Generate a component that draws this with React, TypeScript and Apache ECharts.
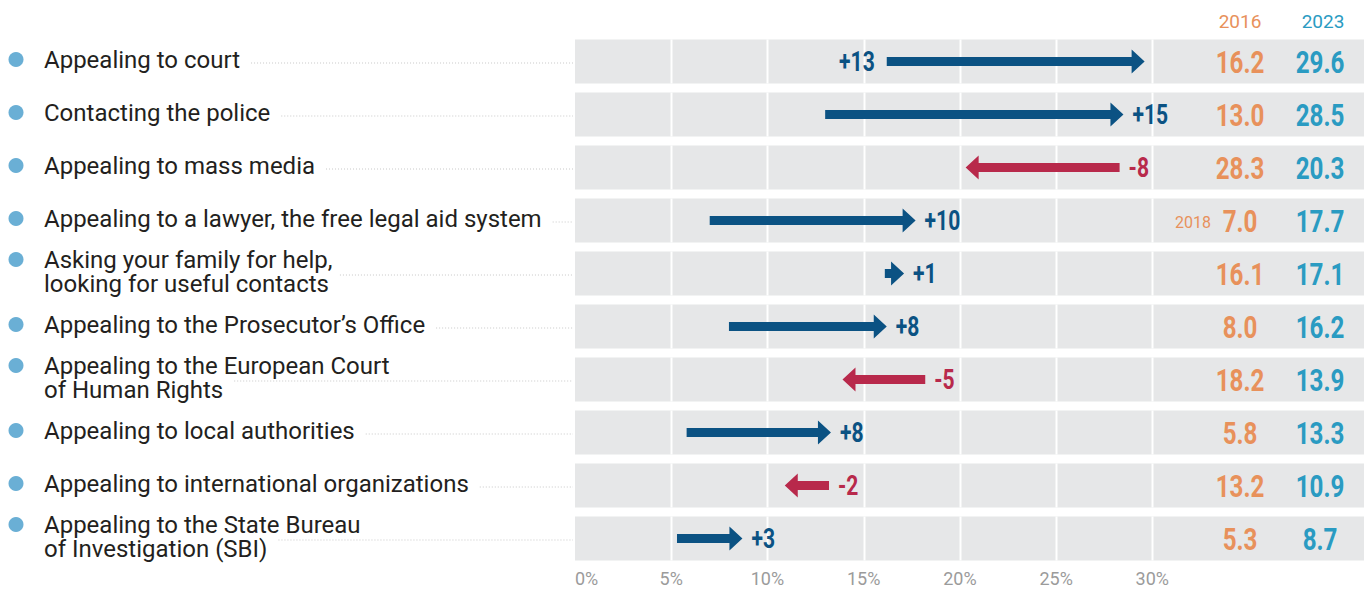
import React, { useEffect, useRef } from 'react';
import * as echarts from 'echarts';

const categories = [
  'Appealing to court',
  'Contacting the police',
  'Appealing to mass media',
  'Appealing to a lawyer, the free legal aid system',
  'Asking your family for help,\nlooking for useful contacts',
  'Appealing to the Prosecutor’s Office',
  'Appealing to the European Court\nof Human Rights',
  'Appealing to local authorities',
  'Appealing to international organizations',
  'Appealing to the State Bureau\nof Investigation (SBI)',
];
const values2016 = [16.2, 13.0, 28.3, 7.0, 16.1, 8.0, 18.2, 5.8, 13.2, 5.3];
const values2023 = [29.6, 28.5, 20.3, 17.7, 17.1, 16.2, 13.9, 13.3, 10.9, 8.7];
const deltaLabels = ['+13', '+15', '-8', '+10', '+1', '+8', '-5', '+8', '-2', '+3'];
const baseYearNotes = ['', '', '', '2018', '', '', '', '', '', ''];
const yearHeaders = ['2016', '2023'];
const gridTicks = [5, 10, 15, 20, 25, 30];

const LABEL_FONT = 'Roboto, "Noto Sans", sans-serif';
const LABEL_SIZE = 24;
const COND_FONT = 'Roboto, "Noto Sans", sans-serif';
const COND_SCALE = 0.78;
const C_UP = '#0B5283';
const C_DOWN = '#B8294B';
const C_ORANGE = '#E8915B';
const C_TEAL = '#2A9BC2';
const C_BAND = '#E6E7E8';

let measureCtx: CanvasRenderingContext2D | null = null;
function measure(text: string): number {
  if (!measureCtx) {
    const c = document.createElement('canvas');
    measureCtx = c.getContext('2d');
  }
  if (!measureCtx) return text.length * 10;
  measureCtx.font = `${LABEL_SIZE}px ${LABEL_FONT}`;
  return measureCtx.measureText(text).width;
}

export default function App() {
  const ref = useRef<HTMLDivElement>(null);

  useEffect(() => {
    document.body.style.margin = '0';
    if (!ref.current) return;
    const chart = echarts.init(ref.current, undefined, { renderer: 'svg' });

    const rows = categories.map((_, i) => [values2016[i], i, values2023[i]]);

    const condText = (
      x: number,
      y: number,
      text: string,
      fill: string,
      size: number,
      align: string
    ) => ({
      type: 'text',
      x,
      y,
      scaleX: COND_SCALE,
      style: {
        text,
        fill,
        fontSize: size,
        fontWeight: 'bold',
        fontFamily: COND_FONT,
        align,
        verticalAlign: 'middle',
      },
    });

    const option: any = {
      animation: false,
      grid: { left: 575, right: 0, top: 35, bottom: 24 },
      xAxis: {
        type: 'value',
        min: 0,
        max: 41,
        interval: 5,
        axisLine: { show: false },
        axisTick: { show: false },
        splitLine: { show: false },
        axisLabel: {
          formatter: (v: number) => (v <= 30 ? `${v}%` : ''),
          color: '#9B9B9B',
          fontSize: 18,
          fontFamily: LABEL_FONT,
          margin: 4,
          alignMinLabel: 'left',
        },
      },
      yAxis: {
        type: 'category',
        data: categories.map((_, i) => i),
        inverse: true,
        show: false,
      },
      graphic: yearHeaders.map((t, k) => ({
        type: 'text',
        x: k === 0 ? 1240 : 1323,
        y: 21,
        style: {
          text: t,
          fill: k === 0 ? C_ORANGE : C_TEAL,
          fontSize: 19,
          fontFamily: LABEL_FONT,
          align: 'center',
          verticalAlign: 'middle',
        },
      })),
      series: [
        {
          type: 'custom',
          name: 'bands',
          data: rows,
          encode: { x: [0, 2], y: 1 },
          silent: true,
          renderItem: (params: any, api: any) => {
            const i = api.value(1);
            const cy = api.coord([0, i])[1];
            const h = api.size([0, 1])[1] * 0.83;
            const cs = params.coordSys;
            const children: any[] = [
              {
                type: 'rect',
                shape: { x: cs.x, y: cy - h / 2, width: cs.width, height: h },
                style: { fill: C_BAND },
              },
            ];
            gridTicks.forEach((t) => {
              const x = Math.round(api.coord([t, i])[0]) + 0.5;
              children.push({
                type: 'line',
                shape: { x1: x, y1: cy - h / 2, x2: x, y2: cy + h / 2 },
                style: { stroke: '#FFFFFF', lineWidth: 2 },
              });
            });
            return { type: 'group', children };
          },
          z: 1,
        },
        {
          type: 'custom',
          name: 'labels',
          data: rows,
          encode: { x: [0, 2], y: 1 },
          silent: true,
          renderItem: (params: any, api: any) => {
            const i = api.value(1);
            const cy = api.coord([0, i])[1];
            const cs = params.coordSys;
            const lines = categories[i].split('\n');
            const lastW = measure(lines[lines.length - 1]);
            const lh = 24;
            const textCy = cy - 2;
            const firstCy = textCy - ((lines.length - 1) * lh) / 2;
            return {
              type: 'group',
              children: [
                {
                  type: 'line',
                  shape: { x1: 44 + lastW + 11, y1: cy + 1.5, x2: cs.x - 2, y2: cy + 1.5 },
                  style: { stroke: '#C8C8C8', lineWidth: 1, lineDash: [1, 2] },
                },
                {
                  type: 'circle',
                  shape: { cx: 16, cy: firstCy, r: 7.5 },
                  style: { fill: '#6AAFD5' },
                },
                {
                  type: 'text',
                  x: 44,
                  y: textCy,
                  style: {
                    text: categories[i],
                    fill: '#231F20',
                    fontSize: LABEL_SIZE,
                    fontFamily: LABEL_FONT,
                    lineHeight: lh,
                    align: 'left',
                    verticalAlign: 'middle',
                  },
                },
              ],
            };
          },
          z: 2,
        },
        {
          type: 'custom',
          name: 'arrows',
          data: rows,
          encode: { x: [0, 2], y: 1 },
          silent: true,
          renderItem: (params: any, api: any) => {
            const v0 = api.value(0);
            const i = api.value(1);
            const v1 = api.value(2);
            const [x0, yc] = api.coord([v0, i]);
            const x1 = api.coord([v1, i])[0];
            const dir = x1 >= x0 ? 1 : -1;
            const color = dir > 0 ? C_UP : C_DOWN;
            const len = Math.abs(x1 - x0);
            const hl = Math.min(13, len);
            const hh = 12;
            const sh = 4.5;
            const xb = x1 - dir * hl;
            const points = [
              [x0, yc - sh],
              [xb, yc - sh],
              [xb, yc - hh],
              [x1, yc],
              [xb, yc + hh],
              [xb, yc + sh],
              [x0, yc + sh],
            ];
            const right = Math.max(x0, x1);
            const leftX = Math.min(x0, x1);
            const labelLeft = Math.max(v0, v1) > 29;
            return {
              type: 'group',
              children: [
                { type: 'polygon', shape: { points }, style: { fill: color } },
                condText(
                  labelLeft ? leftX - 12 : right + 9,
                  yc + 1,
                  deltaLabels[i],
                  color,
                  27,
                  labelLeft ? 'right' : 'left'
                ),
              ],
            };
          },
          z: 3,
        },
        {
          type: 'custom',
          name: 'values',
          data: rows,
          encode: { x: [0, 2], y: 1 },
          silent: true,
          renderItem: (params: any, api: any) => {
            const v0 = api.value(0);
            const i = api.value(1);
            const v1 = api.value(2);
            const cy = api.coord([0, i])[1];
            const children: any[] = [
              condText(1240, cy + 1, v0.toFixed(1), C_ORANGE, 31, 'center'),
              condText(1320, cy + 1, v1.toFixed(1), C_TEAL, 31, 'center'),
            ];
            if (baseYearNotes[i]) {
              children.push({
                type: 'text',
                x: 1211,
                y: cy + 2,
                style: {
                  text: baseYearNotes[i],
                  fill: C_ORANGE,
                  fontSize: 16,
                  fontFamily: LABEL_FONT,
                  align: 'right',
                  verticalAlign: 'middle',
                },
              });
            }
            return { type: 'group', children };
          },
          z: 3,
        },
      ],
    };

    chart.setOption(option);
    return () => {
      chart.dispose();
    };
  }, []);

  return <div ref={ref} style={{ width: 1367, height: 589 }} />;
}
